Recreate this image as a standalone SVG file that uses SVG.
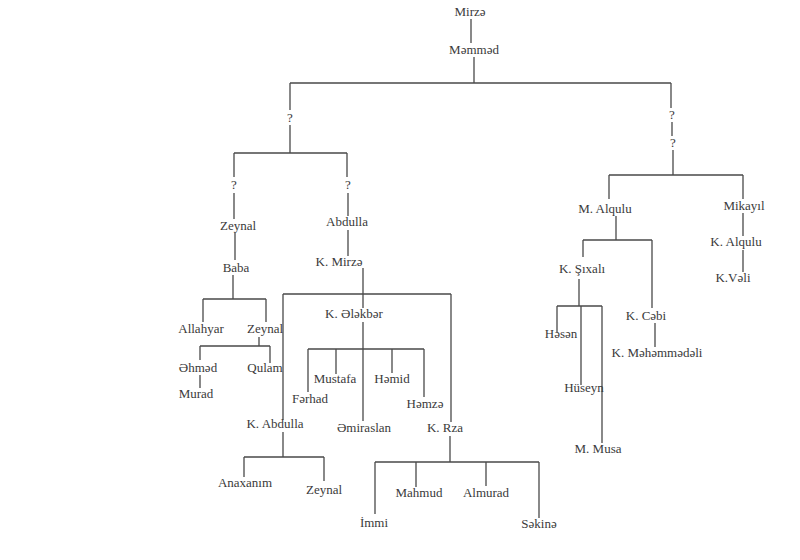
<svg xmlns="http://www.w3.org/2000/svg" width="800" height="560" viewBox="0 0 800 560">
<style>
text{font-family:"Liberation Serif","Times New Roman",serif;font-size:13px;fill:#3a3a3a;text-anchor:middle}
.c path{fill:none;stroke:#4a4a4a;stroke-width:1.3}
</style>
<rect width="800" height="560" fill="#fff"/>
<g class="c" id="connectors">
<path d="M471 19V43"/>
<path d="M474 57V83M290 83H671M290 83V110M290 125V153M671 83V108M672 122V136M673 150V175"/>
<path d="M234 153H347M234 153V177M347 153V177"/>
<path d="M234 193V219M235 233V260"/>
<path d="M233 275V299M203 299H266M203 299V322M266 299V322"/>
<path d="M259 337V346M200 346H270M200 346V360M270 346V363M200 375V388"/>
<path d="M348 193V216M348 230V256"/>
<path d="M363 268V294M283 294H451M283 294V420M451 294V422M363 294V308"/>
<path d="M363 322V349M308 349H424M308 349V392M336 349V374M363 349V421M392 349V373M424 349V397"/>
<path d="M283 432V457M244 457H324M244 457V477M324 457V481"/>
<path d="M450 436V462M375 462H539M375 462V514M416 462V487M486 462V486M539 462V518"/>
<path d="M609 175H743M609 175V199M743 175V199"/>
<path d="M616 216V240M583 240H652M583 240V257M652 240V308M655 323V347"/>
<path d="M579 279V306M557 306H602M557 306V332M581 306V385M602 306V443"/>
<path d="M743 213V236M743 250V272"/>
</g>
<g id="n-mirze"><text x="470" y="16">Mirzə</text></g>
<g id="n-memmed"><text x="474" y="54">Məmməd</text></g>
<g id="n-q1"><text x="290" y="122">?</text></g>
<g id="n-q2"><text x="672" y="119">?</text></g>
<g id="n-q3"><text x="673" y="147">?</text></g>
<g id="n-q4"><text x="234" y="189">?</text></g>
<g id="n-q5"><text x="348" y="189">?</text></g>
<g id="n-zeynal1"><text x="238" y="230">Zeynal</text></g>
<g id="n-baba"><text x="236" y="272">Baba</text></g>
<g id="n-allahyar"><text x="201" y="333">Allahyar</text></g>
<g id="n-zeynal2"><text x="265" y="333">Zeynal</text></g>
<g id="n-ehmed"><text x="198" y="372">Əhməd</text></g>
<g id="n-qulam"><text x="265" y="372">Qulam</text></g>
<g id="n-murad"><text x="196" y="398">Murad</text></g>
<g id="n-abdulla"><text x="347" y="226">Abdulla</text></g>
<g id="n-kmirze"><text x="339" y="266">K. Mirzə</text></g>
<g id="n-kelekber"><text x="354" y="318">K. Ələkbər</text></g>
<g id="n-mustafa"><text x="335" y="383">Mustafa</text></g>
<g id="n-hemid"><text x="392" y="383">Həmid</text></g>
<g id="n-ferhad"><text x="310" y="403">Fərhad</text></g>
<g id="n-hemze"><text x="425" y="408">Həmzə</text></g>
<g id="n-emiraslan"><text x="364" y="432">Əmiraslan</text></g>
<g id="n-kabdulla"><text x="275" y="428">K. Abdulla</text></g>
<g id="n-krza"><text x="445" y="432">K. Rza</text></g>
<g id="n-anaxanim"><text x="245" y="487">Anaxanım</text></g>
<g id="n-zeynal3"><text x="324" y="494">Zeynal</text></g>
<g id="n-immi"><text x="374" y="527">İmmi</text></g>
<g id="n-mahmud"><text x="419" y="497">Mahmud</text></g>
<g id="n-almurad"><text x="486" y="497">Almurad</text></g>
<g id="n-sekine"><text x="539" y="528">Səkinə</text></g>
<g id="n-malqulu"><text x="605" y="213">M. Alqulu</text></g>
<g id="n-mikayil"><text x="744" y="210">Mikayıl</text></g>
<g id="n-ksixali"><text x="582" y="273">K. Şıxalı</text></g>
<g id="n-kcebi"><text x="646" y="320">K. Cəbi</text></g>
<g id="n-kmehemmedeli"><text x="657" y="357">K. Məhəmmədəli</text></g>
<g id="n-hesen"><text x="561" y="338">Həsən</text></g>
<g id="n-huseyn"><text x="584" y="392">Hüseyn</text></g>
<g id="n-mmusa"><text x="598" y="453">M. Musa</text></g>
<g id="n-kalqulu"><text x="736" y="246">K. Alqulu</text></g>
<g id="n-kveli"><text x="733" y="282">K.Vəli</text></g>
</svg>
